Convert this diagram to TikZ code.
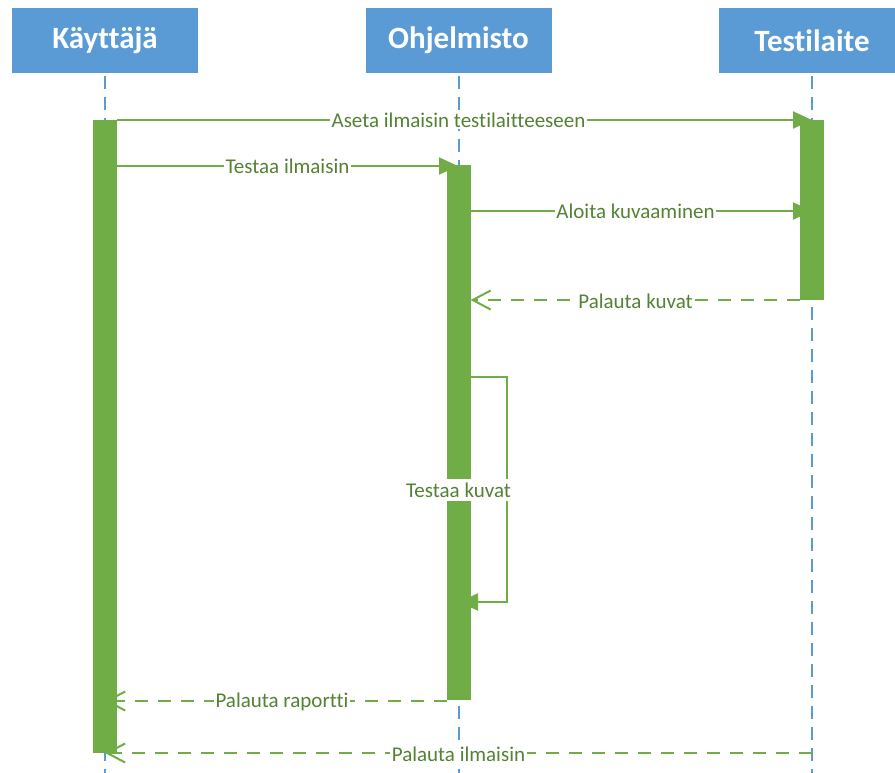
\documentclass[tikz,border=0pt]{standalone}
\usepackage{fontspec}
\setmainfont{Carlito}[Ligatures={NoCommon}]
\usetikzlibrary{arrows.meta}
\definecolor{headblue}{RGB}{91,155,213}
\definecolor{lifeblue}{RGB}{91,155,213}
\definecolor{bargreen}{RGB}{112,173,71}
\definecolor{txtgreen}{RGB}{84,130,53}
\tikzset{
  head/.style={fill=headblue, draw=none, minimum width=186pt, minimum height=65pt, inner sep=0pt,
    text=white, font=\bfseries\fontsize{31}{37}\selectfont},
  life/.style={draw=lifeblue, line width=2pt, dash pattern=on 13pt off 8pt},
  actbar/.style={fill=bargreen, draw=none, minimum width=24pt, inner sep=0pt},
  msg/.style={draw=bargreen, line width=2pt, -{Triangle[length=19pt,width=17pt]}},
  ret/.style={draw=bargreen, line width=2pt, dash pattern=on 13pt off 10pt,
    -{Straight Barb[length=18pt,width=19pt,line width=2pt]}},
  lbl/.style={fill=white, text=txtgreen, inner sep=1.5pt, font=\fontsize{21}{25}\selectfont}
}
\begin{document}
\begin{tikzpicture}[x=1pt,y=-1pt]
\useasboundingbox (0,0) rectangle (895,772);
\clip (0,0) rectangle (895,772);
% heads
\node[head] (k) at (105,40.5) {Käyttäjä};
\node[head] (o) at (458.5,40.5) {Ohjelmisto};
\node[head] (t) at (812,40.5) {Testilaite};
% lifeline ends
\coordinate (kend) at (105,775);
\coordinate (oend) at (458.5,775);
\coordinate (tend) at (812,775);
\draw[life] (k.south) ++(0,3) -- (kend);
\draw[life] (o.south) ++(0,3) -- (oend);
\draw[life] (t.south) ++(0,3) -- (tend);
% activation bars
\node[actbar, minimum height=633pt] (kb) at (105,436.5) {};
\node[actbar, minimum height=535pt] (ob) at (458.5,432.5) {};
\node[actbar, minimum height=180pt] (tb) at (812,210) {};
% message points
\coordinate (m1s) at (117,120);  \coordinate (m1e) at (812,120);
\coordinate (m2s) at (117,166);  \coordinate (m2e) at (458,166);
\coordinate (m3s) at (470,211);  \coordinate (m3e) at (812,211);
\coordinate (m4s) at (800,300);  \coordinate (m4e) at (470.5,300);
\coordinate (s1) at (458,377);   \coordinate (s2) at (507,377);
\coordinate (s3) at (507,602);   \coordinate (s4) at (459,602);
\coordinate (m6s) at (446.5,701); \coordinate (m6e) at (105,701);
\coordinate (m7s) at (812,753);  \coordinate (m7e) at (105,753);
% messages
\draw[msg] (m1s) -- (m1e);
\draw[msg] (m2s) -- (m2e);
\draw[msg] (m3s) -- (m3e);
\draw[ret] (m4s) -- (m4e);
\draw[msg] (s1) -- (s2) -- (s3) -- (s4);
\draw[ret] (m6s) -- (m6e);
\draw[ret] (m7s) -- (m7e);
% labels
\node[lbl] (l1) at (458.5,120) {Aseta ilmaisin testilaitteeseen};
\node[lbl] (l2) at (287.5,166) {Testaa ilmaisin};
\node[lbl] (l3) at (635.5,211) {Aloita kuvaaminen};
\node[lbl] (l4) at (635.5,301) {Palauta kuvat};
\node[lbl, inner ysep=4pt] (l5) at (458.5,490) {Testaa kuvat};
\node[lbl] (l6) at (282,702) {Palauta raportti};
\node[lbl] (l7) at (458.5,754) {Palauta ilmaisin};
\end{tikzpicture}
\end{document}
